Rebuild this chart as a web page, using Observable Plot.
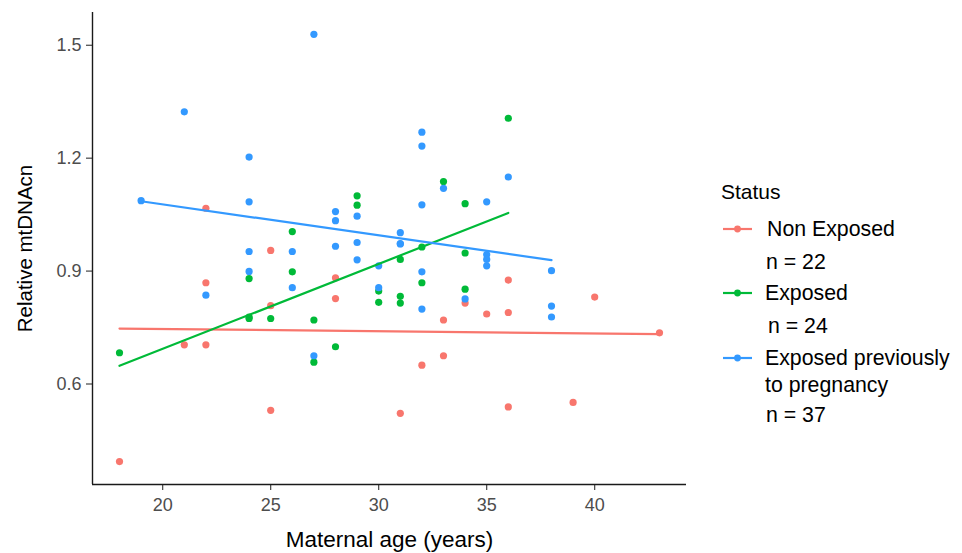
<!DOCTYPE html>
<html>
<head>
<meta charset="utf-8">
<script src="https://cdn.jsdelivr.net/npm/d3@7"></script>
<script src="https://cdn.jsdelivr.net/npm/@observablehq/plot@0.6"></script>
<style>
  html, body { margin: 0; padding: 0; background: #fff; }
  #wrap { position: relative; width: 962px; height: 553px; font-family: "Liberation Sans", Arial, sans-serif; }
  #legend { position: absolute; left: 0; top: 0; width: 962px; height: 553px; pointer-events: none; }
</style>
</head>
<body>
<div id="wrap"></div>
<script>
// Groups
const statusLabels = ["Non Exposed", "Exposed", "Exposed previously to pregnancy"];
const statusColors = ["#F8766D", "#00BA38", "#3399FF"];
const statusN = ["n = 22", "n = 24", "n = 37"];

// Non Exposed
const nonExposedAge = [18, 21, 22, 22, 22, 25, 25, 25, 28, 28, 31, 32, 33, 33, 34, 35, 36, 36, 36, 39, 40, 43];
const nonExposedCN  = [0.394, 0.704, 1.067, 0.869, 0.704, 0.955, 0.808, 0.530, 0.882, 0.827, 0.522, 0.650, 0.770, 0.675, 0.815, 0.786, 0.876, 0.790, 0.539, 0.551, 0.831, 0.736];

// Exposed
const exposedAge = [18, 24, 24, 24, 25, 26, 26, 27, 27, 28, 29, 29, 30, 30, 31, 31, 31, 32, 32, 33, 34, 34, 34, 36];
const exposedCN  = [0.683, 0.880, 0.778, 0.774, 0.774, 1.005, 0.898, 0.770, 0.658, 0.699, 1.100, 1.075, 0.847, 0.817, 0.931, 0.833, 0.815, 0.964, 0.869, 1.138, 1.079, 0.948, 0.852, 1.306];

// Exposed previously to pregnancy
const prevAge = [19, 21, 22, 24, 24, 24, 24, 26, 26, 27, 27, 28, 28, 28, 29, 29, 29, 30, 30, 31, 31, 32, 32, 32, 32, 32, 33, 34, 35, 35, 35, 35, 36, 38, 38, 38, 31];
const prevCN  = [1.087, 1.323, 0.836, 1.203, 1.084, 0.952, 0.899, 0.952, 0.856, 1.529, 0.675, 1.058, 1.034, 0.966, 1.046, 0.976, 0.930, 0.914, 0.856, 1.002, 0.973, 1.269, 1.232, 1.076, 0.898, 0.799, 1.120, 0.826, 1.084, 0.944, 0.931, 0.914, 1.150, 0.901, 0.807, 0.778, 0.972];

// Axis ticks
const xTicks = [20, 25, 30, 35, 40];
const yTicks = [0.6, 0.9, 1.2, 1.5];
const xDomain = [16.75, 44.25];
const yDomain = [0.333, 1.587];

const rows = [];
[[nonExposedAge, nonExposedCN], [exposedAge, exposedCN], [prevAge, prevCN]].forEach(([ages, cns], g) => {
  ages.forEach((a, i) => rows.push({age: a, cn: cns[i], status: statusLabels[g]}));
});

const chart = Plot.plot({
  width: 962,
  height: 553,
  marginLeft: 92,
  marginRight: 276,
  marginTop: 12,
  marginBottom: 69,
  style: {fontFamily: "'Liberation Sans', Arial, sans-serif", background: "#fff"},
  x: {domain: xDomain, ticks: xTicks, label: null},
  y: {domain: yDomain, ticks: yTicks, label: null},
  color: {domain: statusLabels, range: statusColors},
  marks: [
    Plot.axisX({ticks: xTicks, tickSize: 6, tickPadding: 8, fontSize: 18, color: "#4D4D4D", stroke: "#333", strokeWidth: 1.1, label: null}),
    Plot.axisY({ticks: yTicks, tickSize: 6, tickPadding: 5, fontSize: 18, color: "#4D4D4D", stroke: "#333", strokeWidth: 1.1, label: null, tickFormat: d3.format(".1f")}),
    Plot.dot(rows, {x: "age", y: "cn", fill: "status", r: 3.6, stroke: "none"}),
    Plot.linearRegressionY(rows, {x: "age", y: "cn", stroke: "status", ci: 0, strokeWidth: 2.2}),
    Plot.ruleX([xDomain[0]], {stroke: "#1a1a1a", strokeWidth: 1.4}),
    Plot.ruleY([yDomain[0]], {stroke: "#1a1a1a", strokeWidth: 1.4}),
    Plot.text(["Maternal age (years)"], {frameAnchor: "bottom", dy: 55, fontSize: 22.5, fill: "#000", lineAnchor: "middle"}),
    Plot.text(["Relative mtDNAcn"], {frameAnchor: "left", dx: -67, rotate: -90, fontSize: 20.5, fill: "#000", lineAnchor: "middle", textAnchor: "middle"})
  ]
});

const wrap = document.getElementById("wrap");
wrap.appendChild(chart);

// Legend
const svg = d3.select(wrap).append("svg").attr("id", "legend").attr("width", 962).attr("height", 553)
  .style("font-family", "'Liberation Sans', Arial, sans-serif");
svg.append("text").attr("x", 721).attr("y", 192).attr("dy", "0.35em").attr("font-size", 21).attr("fill", "#000").text("Status");
const items = [
  {keyY: 229, lines: [{t: "Non Exposed", x: 767, y: 229}, {t: statusN[0], x: 766, y: 262}]},
  {keyY: 293, lines: [{t: "Exposed", x: 765, y: 293}, {t: statusN[1], x: 768, y: 326}]},
  {keyY: 358, lines: [{t: "Exposed previously", x: 765, y: 358}, {t: "to pregnancy", x: 765, y: 385}, {t: statusN[2], x: 766, y: 415}]}
];
items.forEach((it, i) => {
  svg.append("line").attr("x1", 723).attr("x2", 752).attr("y1", it.keyY).attr("y2", it.keyY)
    .attr("stroke", statusColors[i]).attr("stroke-width", 2.2);
  svg.append("circle").attr("cx", 737.5).attr("cy", it.keyY).attr("r", 3.4).attr("fill", statusColors[i]);
  it.lines.forEach(l => {
    svg.append("text").attr("x", l.x).attr("y", l.y).attr("dy", "0.35em").attr("font-size", 21.3).attr("fill", "#000").text(l.t);
  });
});
</script>
</body>
</html>
